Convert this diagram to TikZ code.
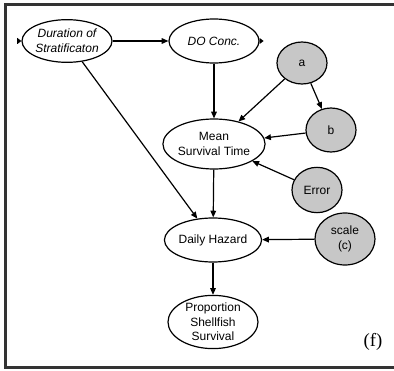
\documentclass[tikz,border=0pt]{standalone}
\usepackage{fontspec}
\setmainfont{Liberation Serif}
\setsansfont{Liberation Sans}
\usetikzlibrary{arrows.meta,shapes.geometric}

\begin{document}
\begin{tikzpicture}[x=0.75pt,y=-0.75pt,
	var/.style={draw,ellipse,line width=0.9pt,inner sep=0pt,align=center,
		font=\sffamily\fontsize{9}{11.5}\selectfont},
	parm/.style={var,fill=black!22},
	link/.style={line width=0.9pt,-{Triangle[length=5pt,width=4.2pt]}}]
	
	\useasboundingbox (0,0) rectangle (394,371);
	\draw[black!80,line width=2.3pt] (394,4.5) -- (5.5,4.5) -- (5.5,367.5) -- (394,367.5);
	
	\node[var,minimum width=67.5pt,minimum height=32pt,font=\sffamily\itshape\fontsize{9}{11.5}\selectfont] (dur) at (67,41) {Duration of\\Stratificaton};
	\node[var,minimum width=67.5pt,minimum height=33pt,font=\sffamily\itshape\fontsize{9}{11.5}\selectfont] (doc) at (214,41) {DO Conc.};
	\node[parm,minimum width=37.5pt,minimum height=31.5pt] (a) at (302,63) {a};
	\node[parm,minimum width=37.5pt,minimum height=33pt] (b) at (331,130) {b};
	\node[var,minimum width=69pt,minimum height=37.5pt] (mean) at (214,144) {Mean\\Survival Time};
	\node[parm,minimum width=37.5pt,minimum height=34pt] (err) at (317,190) {Error};
	\node[var,minimum width=67pt,minimum height=33pt] (hazard) at (213,240) {Daily Hazard};
	\node[parm,minimum width=45pt,minimum height=39pt] (scale) at (345,239) {scale\\(c)};
	\node[var,minimum width=67.5pt,minimum height=38pt,font=\sffamily\fontsize{9}{10.8}\selectfont] (prop) at (213,322) {Proportion\\Shellfish\\Survival};
	\node[font=\fontsize{14}{16}\selectfont] (lbl) at (373,342) {(f)};
	
	\draw[link] (dur) -- (doc);
	\draw[link] (dur) -- (hazard);
	\draw[link] (doc) -- (mean);
	\draw[link] (a) -- (mean);
	\draw[link] (a) -- (b);
	\draw[link] (b) -- (mean);
	\draw[link] (err) -- (mean);
	\draw[link] (mean) -- (hazard);
	\draw[link] (scale) -- (hazard);
	\draw[link] (hazard) -- (prop);
	
	\fill (dur.west) -- ++(-4,-3) -- ++(0,6) -- cycle;
	\draw[line width=0.9pt] ([xshift=-3pt]dur.west) ++(0,-3) -- ++(0,6);
	\fill (doc.east) -- ++(0,-3) -- ++(4,3) -- ++(-4,3) -- cycle;
	
\end{tikzpicture}
\end{document}
